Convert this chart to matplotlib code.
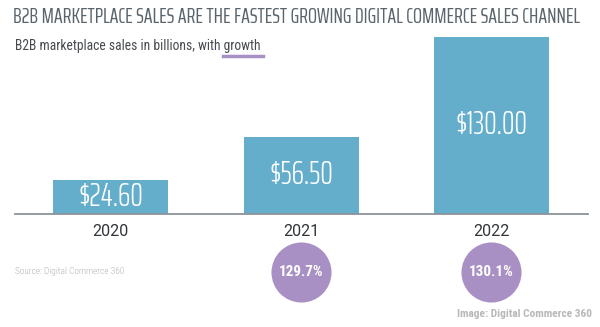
import matplotlib
matplotlib.use("Agg")
import matplotlib.pyplot as plt

years = ["2020", "2021", "2022"]
sales = [24.60, 56.50, 130.00]
growth = ["", "129.7%", "130.1%"]

title = "B2B MARKETPLACE SALES ARE THE FASTEST GROWING DIGITAL COMMERCE SALES CHANNEL"
subtitle = "B2B marketplace sales in billions, with growth"
source = "Source: Digital Commerce 360"
credit = "Image: Digital Commerce 360"

bar_color = "#64aecc"
circle_color = "#a890c4"
narrow = "Saira ExtraCondensed"
W, H = 600, 327

fig = plt.figure(figsize=(6, 3.27), dpi=100)
renderer = fig.canvas.get_renderer()


def fit(t, width_px):
    # scale font size so the text spans the wanted width in pixels
    w = t.get_window_extent(renderer).width
    t.set_fontsize(t.get_fontsize() * width_px / w)


# bar axes: baseline at y=214px, about 1.365 px per billion
left, right = 15 / W, 588 / W
bottom = (H - 214) / H
height = 135 * 1.365 / H
ax = fig.add_axes([left, bottom, right - left, height])
x = list(range(len(years)))
ax.bar(x, sales, width=0.604, color=bar_color, zorder=2)
ax.set_xlim(-0.502, 2.507)
ax.set_ylim(0, 135)
for s in ["top", "right", "left"]:
    ax.spines[s].set_visible(False)
ax.spines["bottom"].set_color("#8c9399")
ax.spines["bottom"].set_linewidth(1.3)
ax.set_yticks([])
ax.set_xticks(x)
ax.set_xticklabels(years, fontsize=11.5, color="#30353a", family="Roboto")
ax.tick_params(axis="x", length=0, pad=7)

labels = []
for i, v in enumerate(sales):
    labels.append(ax.text(i, v / 2, "${:.2f}".format(v), ha="center", va="center",
                          color="white", fontsize=20, family=narrow,
                          fontweight=300, zorder=3))
w = labels[2].get_window_extent(renderer).width
for t in labels:
    t.set_fontsize(20 * 72 / w)

# growth circles under the years
cy = -(272 - 214) / 1.365
for i, g in enumerate(growth):
    if not g:
        continue
    ax.scatter([i], [cy], s=1870, color=circle_color, clip_on=False, zorder=3, linewidths=0)
    t = ax.text(i, cy, g, ha="center", va="center", color="white", fontsize=10,
                fontweight="bold", family="Roboto Condensed", clip_on=False, zorder=4)
    fit(t, 45)

t = fig.text(13 / W, 1 - 17 / H, title, ha="left", va="center", fontsize=14,
             color="#5a646c", family=narrow, fontweight=400)
fit(t, 568)
t = fig.text(15 / W, 1 - 46 / H, subtitle, ha="left", va="center", fontsize=9.5,
             color="#464b50", family="Roboto Condensed")
fit(t, 247)
fig.add_artist(plt.Line2D([223 / W, 263 / W], [1 - 56 / H, 1 - 56 / H],
                          color=circle_color, lw=2.5))
t = fig.text(15 / W, 1 - 272 / H, source, ha="left", va="center", fontsize=6.5,
             color="#b3b3b3", family="Roboto Condensed", fontweight=300)
fit(t, 110)
t = fig.text(592 / W, 1 - 314 / H, credit, ha="right", va="center", fontsize=8,
             color="#b8b8b8", fontweight="bold", family="Roboto Condensed")
fit(t, 135)

fig.savefig("out.png", dpi=100)
